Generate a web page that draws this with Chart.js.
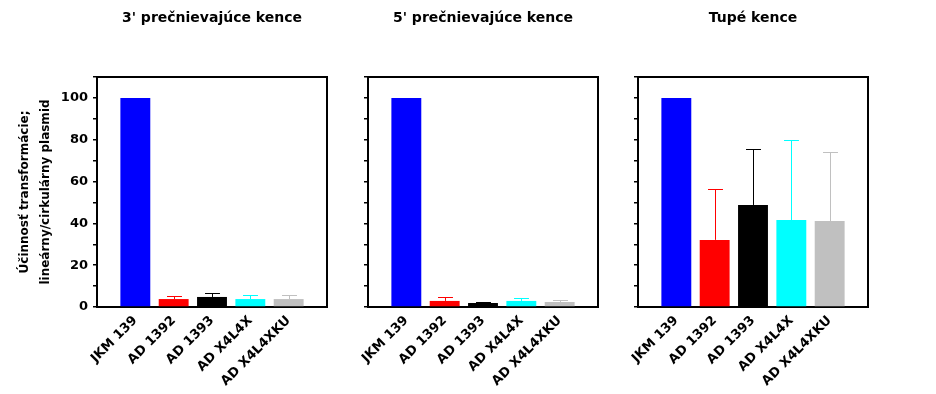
<!DOCTYPE html>
<html><head><meta charset="utf-8">
<script src="https://cdn.jsdelivr.net/npm/chart.js@4.4.1/dist/chart.umd.min.js"></script>
<style>
html,body{margin:0;padding:0;background:#fff;width:936px;height:394px;overflow:hidden}
canvas{position:absolute;left:0;top:0}
</style></head>
<body>
<canvas id="c1" width="936" height="394"></canvas>
<canvas id="c2" width="936" height="394"></canvas>
<canvas id="c3" width="936" height="394"></canvas>
<script>
const categories = ['JKM 139', 'AD 1392', 'AD 1393', 'AD X4L4X', 'AD X4L4XKU'];
const panelTitles = ["3' prečnievajúce kence", "5' prečnievajúce kence", "Tupé kence"];
const yAxisTitle = ['Účinnosť transformácie;', 'lineárny/cirkulárny plasmid'];
const values3 = [100, 3.8, 4.8, 3.8, 3.8];
const errors3 = [0, 1.5, 1.9, 1.9, 1.9];
const values5 = [100, 2.9, 1.9, 2.9, 2.4];
const errors5 = [0, 1.9, 0.5, 1.3, 0.8];
const valuesBlunt = [100, 32.1, 48.8, 41.6, 41.1];
const errorsBlunt = [0, 24.2, 26.6, 38.2, 32.9];
const barColors = ['#0000ff', '#ff0000', '#000000', '#00ffff', '#c0c0c0'];
const yTickLabels = [0, 20, 40, 60, 80, 100];
const yMin = 0, yMax = 110, yStep = 10;

const FONT = 'DejaVu Sans';
const W = 936;

const pad = arr => [null, ...arr, null];
const padLabels = ['', ...categories, ''];

const framePlugin = {
  id: 'frame',
  afterDraw(chart) {
    const {ctx, chartArea: {left, top, right, bottom}} = chart;
    ctx.save();
    ctx.strokeStyle = '#000';
    ctx.lineWidth = 2;
    ctx.beginPath();
    ctx.moveTo(left - 1, top);
    ctx.lineTo(right, top);
    ctx.lineTo(right, bottom + 1);
    ctx.stroke();
    ctx.restore();
  }
};

const errorBarPlugin = {
  id: 'errorBars',
  afterDatasetsDraw(chart) {
    const {ctx} = chart;
    const ys = chart.scales.y;
    chart.data.datasets.forEach((ds, di) => {
      const meta = chart.getDatasetMeta(di);
      meta.data.forEach((bar, i) => {
        const v = ds.data[i], e = ds.errors[i];
        if (v == null || !e) return;
        const x = Math.round(bar.x) + 0.5;
        const y0 = ys.getPixelForValue(v);
        const y1 = Math.round(ys.getPixelForValue(v + e)) + 0.5;
        const half = bar.width / 4;
        ctx.save();
        ctx.strokeStyle = ds.backgroundColor[i];
        ctx.lineWidth = 1;
        ctx.beginPath();
        ctx.moveTo(x, y0);
        ctx.lineTo(x, y1);
        ctx.moveTo(x - half, y1);
        ctx.lineTo(x + half, y1);
        ctx.stroke();
        ctx.restore();
      });
    });
  }
};

const panels = [
  {id: 'c1', left: 97, right: 327, values: values3, errors: errors3, title: panelTitles[0], showY: true},
  {id: 'c2', left: 368, right: 598, values: values5, errors: errors5, title: panelTitles[1], showY: false},
  {id: 'c3', left: 638, right: 868, values: valuesBlunt, errors: errorsBlunt, title: panelTitles[2], showY: false}
];

panels.forEach(p => {
  const yWidth = p.showY ? p.left : 10;
  new Chart(document.getElementById(p.id), {
    type: 'bar',
    data: {
      labels: padLabels,
      datasets: [{
        data: pad(p.values),
        errors: pad(p.errors),
        backgroundColor: pad(barColors),
        borderWidth: 0,
        barPercentage: 0.78,
        categoryPercentage: 1
      }]
    },
    options: {
      responsive: false,
      animation: false,
      events: [],
      layout: {padding: {left: p.left - yWidth, right: W - p.right, top: 0, bottom: 0}},
      plugins: {
        legend: {display: false},
        tooltip: {enabled: false},
        title: {
          display: true,
          text: p.title,
          fullSize: false,
          color: '#000',
          font: {family: FONT, size: 14, weight: 'bold', lineHeight: 1.2},
          padding: {top: 10, bottom: 50.2}
        }
      },
      scales: {
        x: {
          type: 'category',
          offset: false,
          grid: {display: true, drawOnChartArea: false, drawTicks: false},
          border: {display: true, color: '#000', width: 2},
          ticks: {
            autoSkip: false, minRotation: 45, maxRotation: 45,
            color: '#000', padding: 6,
            font: {family: FONT, size: 13, weight: 'bold'}
          },
          afterFit: s => { s.height = 87; }
        },
        y: {
          min: yMin, max: yMax,
          grid: {drawOnChartArea: false, drawTicks: true, tickLength: 4, color: '#000', lineWidth: 1.5},
          border: {display: true, color: '#000', width: 2},
          ticks: {
            stepSize: yStep, includeBounds: false, autoSkip: false,
            color: '#000', padding: 5,
            font: {family: FONT, size: 13, weight: 'bold'},
            callback: v => (p.showY && yTickLabels.includes(v)) ? String(v) : ''
          },
          title: {
            display: p.showY,
            text: yAxisTitle,
            color: '#000',
            font: {family: FONT, size: 12, weight: 'bold', lineHeight: 1.75},
            padding: {top: 14.5, bottom: 0}
          },
          afterFit: s => { s.width = yWidth; }
        }
      }
    },
    plugins: [framePlugin, errorBarPlugin]
  });
});
</script>
</body></html>
